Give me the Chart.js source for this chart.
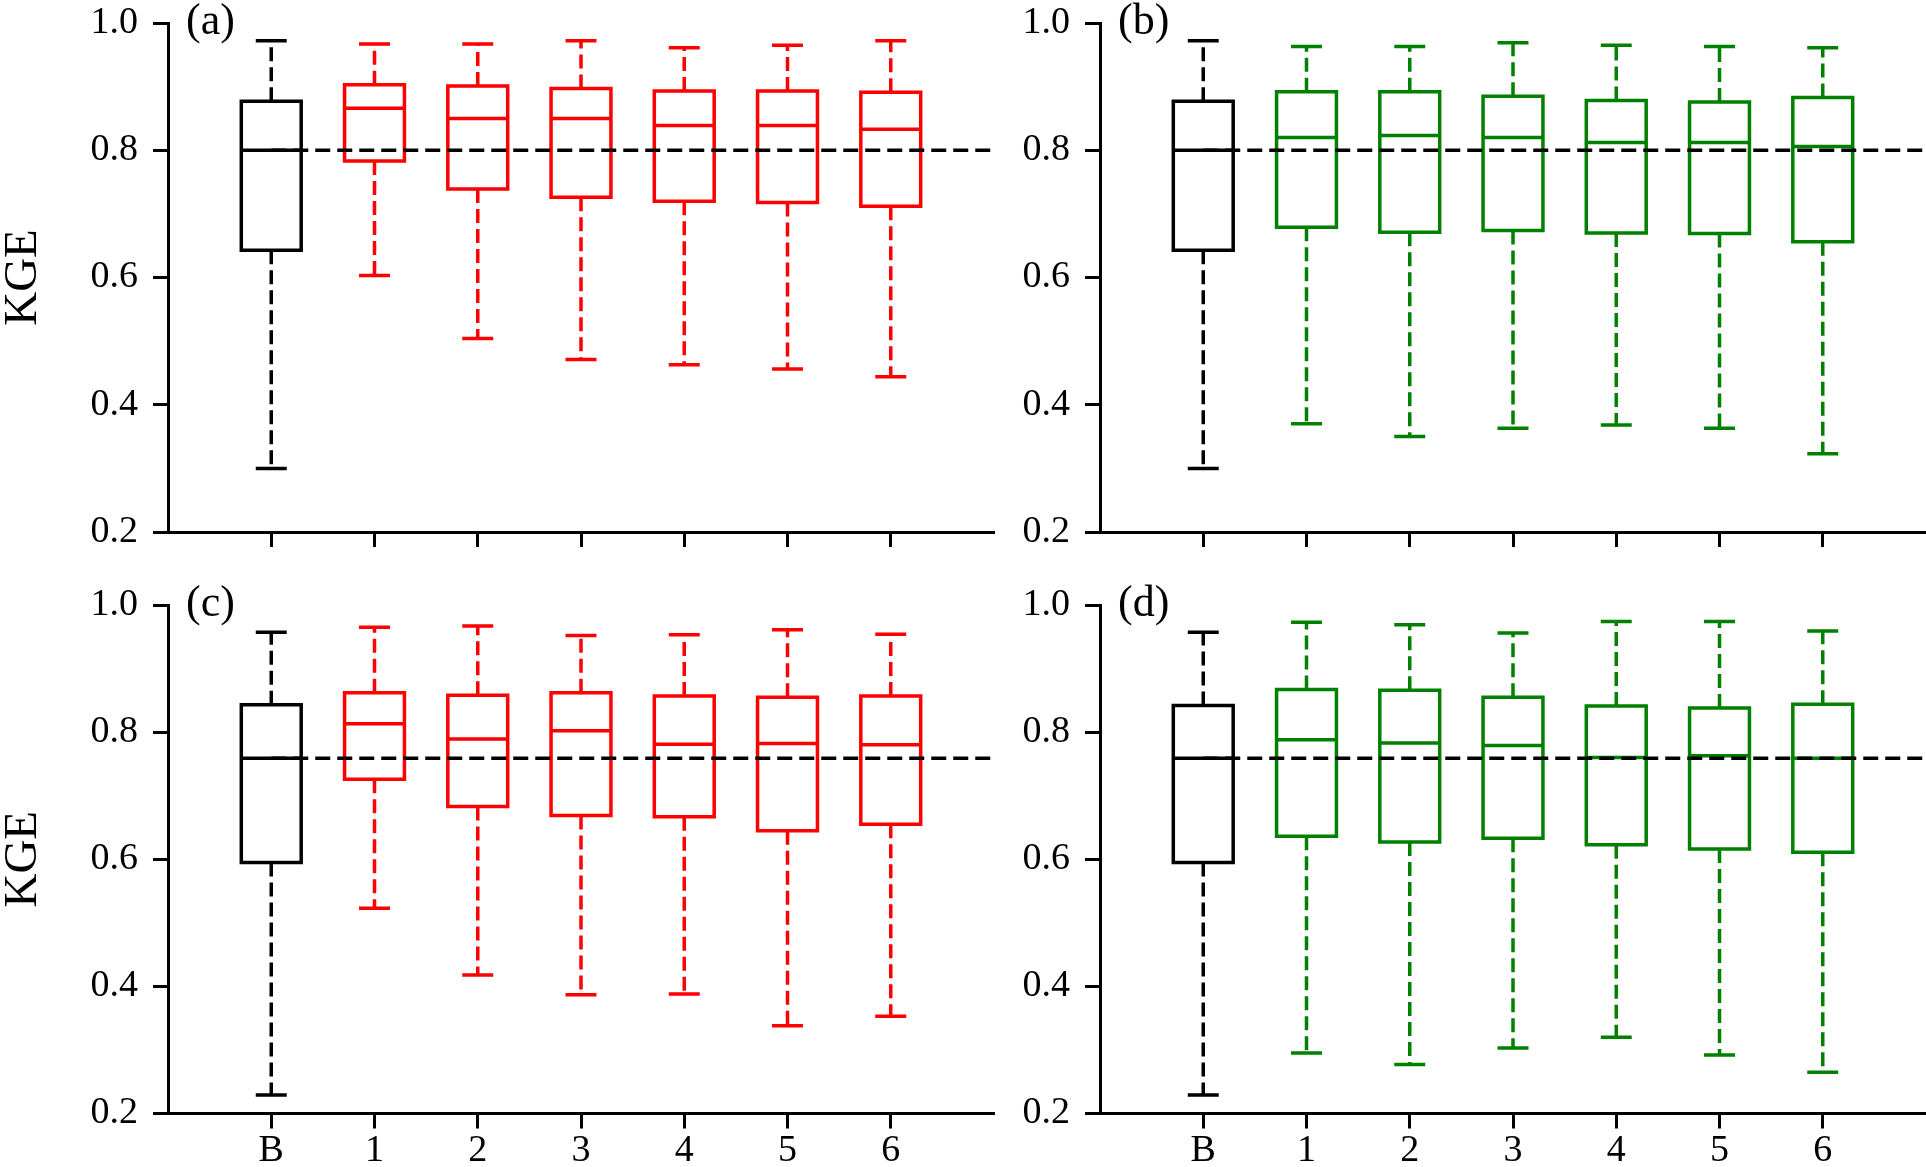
<!DOCTYPE html>
<html>
<head>
<meta charset="utf-8">
<script src="https://cdn.jsdelivr.net/npm/chart.js@4.4.1/dist/chart.umd.min.js"></script>
<style>
html, body { margin:0; padding:0; background:#ffffff; width:1926px; height:1167px; overflow:hidden; }
canvas { position:absolute; }
</style>
</head>
<body>
<canvas id="pa" width="1000" height="583" style="left:0px;top:0px"></canvas>
<canvas id="pb" width="926" height="583" style="left:1000px;top:0px"></canvas>
<canvas id="pc" width="1000" height="584" style="left:0px;top:583px"></canvas>
<canvas id="pd" width="926" height="584" style="left:1000px;top:583px"></canvas>
<script>
// ---------------- data ----------------
const categories = ['B', '1', '2', '3', '4', '5', '6'];
const yTicks = [0.2, 0.4, 0.6, 0.8, 1.0];
const yTitle = 'KGE';
const panelLabels = ['(a)', '(b)', '(c)', '(d)'];

// panel (a)
const aLow  = [0.300, 0.603, 0.504, 0.471, 0.463, 0.456, 0.444];
const aQ1   = [0.643, 0.783, 0.739, 0.726, 0.720, 0.718, 0.712];
const aMed  = [0.800, 0.866, 0.850, 0.850, 0.839, 0.839, 0.833];
const aQ3   = [0.877, 0.903, 0.901, 0.897, 0.893, 0.893, 0.891];
const aHigh = [0.972, 0.967, 0.967, 0.972, 0.961, 0.965, 0.972];

// panel (b)
const bLow  = [0.300, 0.370, 0.350, 0.363, 0.368, 0.363, 0.323];
const bQ1   = [0.643, 0.679, 0.671, 0.674, 0.670, 0.669, 0.656];
const bMed  = [0.800, 0.820, 0.823, 0.820, 0.812, 0.812, 0.806];
const bQ3   = [0.877, 0.892, 0.892, 0.885, 0.878, 0.876, 0.883];
const bHigh = [0.972, 0.963, 0.963, 0.969, 0.965, 0.963, 0.961];

// panel (c)
const cLow  = [0.229, 0.523, 0.418, 0.387, 0.388, 0.338, 0.353];
const cQ1   = [0.595, 0.726, 0.683, 0.669, 0.667, 0.645, 0.655];
const cMed  = [0.759, 0.813, 0.789, 0.802, 0.781, 0.782, 0.780];
const cQ3   = [0.843, 0.862, 0.858, 0.862, 0.857, 0.855, 0.857];
const cHigh = [0.957, 0.965, 0.967, 0.952, 0.953, 0.961, 0.954];

// panel (d)
const dLow  = [0.229, 0.295, 0.277, 0.303, 0.320, 0.292, 0.265];
const dQ1   = [0.595, 0.636, 0.627, 0.633, 0.623, 0.616, 0.611];
const dMed  = [0.759, 0.788, 0.783, 0.779, 0.760, 0.763, 0.759];
const dQ3   = [0.842, 0.867, 0.866, 0.855, 0.841, 0.838, 0.844];
const dHigh = [0.957, 0.973, 0.969, 0.956, 0.974, 0.974, 0.959];

// ---------------- styling ----------------
const FONT = '"Liberation Serif", "Times New Roman", serif';
const BASE_COLOR = '#000000';
const RED = '#ff0000';
const GREEN = '#008000';
const BOX_HALF = 0.29;
const CAP_HALF = 0.15;
const LW = 3.5;
const AXIS_LW = 3;
const X_MIN = -1;
const X_MAX = categories.length;

function groupDatasets(idx, color, lo, q1, med, q3, hi) {
  const box = [], whisk = [], caps = [];
  idx.forEach(i => {
    box.push({x: i - BOX_HALF, y: q1[i]}, {x: i + BOX_HALF, y: q1[i]},
             {x: i + BOX_HALF, y: q3[i]}, {x: i - BOX_HALF, y: q3[i]},
             {x: i - BOX_HALF, y: q1[i]}, {x: i + BOX_HALF, y: q1[i]},
             {x: i, y: null},
             {x: i - BOX_HALF, y: med[i]}, {x: i + BOX_HALF, y: med[i]},
             {x: i, y: null});
    whisk.push({x: i, y: q3[i]}, {x: i, y: hi[i]}, {x: i, y: null},
               {x: i, y: q1[i]}, {x: i, y: lo[i]}, {x: i, y: null});
    caps.push({x: i - CAP_HALF, y: hi[i]}, {x: i + CAP_HALF, y: hi[i]}, {x: i, y: null},
              {x: i - CAP_HALF, y: lo[i]}, {x: i + CAP_HALF, y: lo[i]}, {x: i, y: null});
  });
  const common = {showLine: true, pointRadius: 0, borderWidth: LW, borderColor: color,
                  backgroundColor: 'transparent', spanGaps: false, tension: 0,
                  borderJoinStyle: 'miter', borderCapStyle: 'butt', fill: false};
  return [
    Object.assign({data: box}, common),
    Object.assign({data: caps}, common),
    Object.assign({data: whisk, borderDash: [14, 6]}, common)
  ];
}

const labelPlugin = {
  id: 'panelLabel',
  afterDraw(chart, args, opts) {
    const ctx = chart.ctx;
    const ca = chart.chartArea;
    ctx.save();
    ctx.font = '44px ' + FONT;
    ctx.fillStyle = '#000';
    ctx.textBaseline = 'alphabetic';
    ctx.textAlign = 'left';
    ctx.fillText(opts.text, ca.left + 18, ca.top + 10.5);
    ctx.restore();
  }
};

function makePanel(id, cfg) {
  const n = categories.length;
  const rest = [];
  for (let i = 1; i < n; i++) rest.push(i);
  const refLine = {
    data: [{x: 0, y: cfg.med[0]}, {x: X_MAX, y: cfg.med[0]}],
    showLine: true, pointRadius: 0, borderWidth: LW, borderColor: '#000',
    borderDash: [15, 7], borderCapStyle: 'butt', fill: false
  };
  const datasets = [refLine]
    .concat(groupDatasets([0], BASE_COLOR, cfg.low, cfg.q1, cfg.med, cfg.q3, cfg.high))
    .concat(groupDatasets(rest, cfg.color, cfg.low, cfg.q1, cfg.med, cfg.q3, cfg.high));

  new Chart(document.getElementById(id), {
    type: 'scatter',
    data: {datasets: datasets},
    plugins: [labelPlugin],
    options: {
      responsive: false,
      animation: false,
      events: [],
      devicePixelRatio: 1,
      layout: {padding: {left: 0, top: cfg.top, right: cfg.right, bottom: 0}},
      plugins: {
        legend: {display: false},
        tooltip: {enabled: false},
        panelLabel: {text: cfg.label}
      },
      scales: {
        x: {
          type: 'linear', min: X_MIN, max: X_MAX,
          afterBuildTicks: s => { s.ticks = categories.map((c, i) => ({value: i})); },
          afterFit: s => { s.height = cfg.xh; s.paddingLeft = 0; s.paddingRight = 0; },
          ticks: {
            autoSkip: false, maxRotation: 0, minRotation: 0,
            callback: v => cfg.showX ? categories[v] : '',
            font: {family: FONT, size: 38, lineHeight: 1},
            color: '#000', padding: 4
          },
          grid: {drawOnChartArea: false, drawTicks: true, tickLength: 15, tickWidth: AXIS_LW, tickColor: '#000'},
          border: {display: true, color: '#000', width: AXIS_LW}
        },
        y: {
          type: 'linear', min: yTicks[0], max: yTicks[yTicks.length - 1],
          afterBuildTicks: s => { s.ticks = yTicks.map(v => ({value: v})); },
          afterFit: s => { s.width = cfg.yw; s.paddingTop = 0; s.paddingBottom = 0; },
          ticks: {
            callback: v => Number(v).toFixed(1),
            font: {family: FONT, size: 38, lineHeight: 1},
            color: '#000', padding: 15
          },
          title: {
            display: cfg.showTitle, text: yTitle, color: '#000',
            font: {family: FONT, size: 47, lineHeight: 1}, padding: 0
          },
          grid: {drawOnChartArea: false, drawTicks: true, tickLength: 15, tickWidth: AXIS_LW, tickColor: '#000'},
          border: {display: true, color: '#000', width: AXIS_LW}
        }
      }
    }
  });
}

makePanel('pa', {label: panelLabels[0], color: RED, low: aLow, q1: aQ1, med: aMed, q3: aQ3, high: aHigh,
  top: 23, right: 6, xh: 51, yw: 168, showX: false, showTitle: true});
makePanel('pb', {label: panelLabels[1], color: GREEN, low: bLow, q1: bQ1, med: bMed, q3: bQ3, high: bHigh,
  top: 23, right: 0, xh: 51, yw: 100, showX: false, showTitle: false});
makePanel('pc', {label: panelLabels[2], color: RED, low: cLow, q1: cQ1, med: cMed, q3: cQ3, high: cHigh,
  top: 22, right: 6, xh: 53.5, yw: 168, showX: true, showTitle: true});
makePanel('pd', {label: panelLabels[3], color: GREEN, low: dLow, q1: dQ1, med: dMed, q3: dQ3, high: dHigh,
  top: 22, right: 0, xh: 53.5, yw: 100, showX: true, showTitle: false});
</script>
</body>
</html>
